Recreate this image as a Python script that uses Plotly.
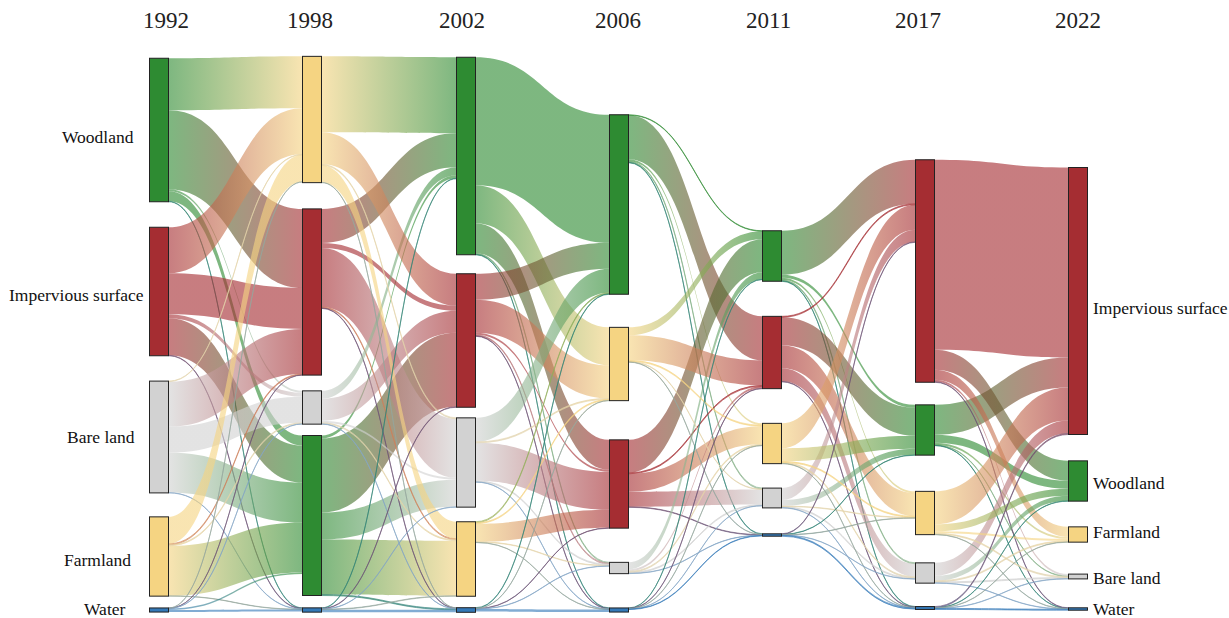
import json
import plotly.graph_objects as go

# ---------------- data ----------------
years = ["1992", "1998", "2002", "2006", "2011", "2017", "2022"]
categories = ["Woodland", "Impervious surface", "Bare land", "Farmland", "Water"]

# transition flows between consecutive years
# rows = source class, columns = target class, order: Woodland, Impervious, Bare, Farmland, Water
flow_1992_1998 = [
    [10, 79, 2, 52, 0.5],
    [37, 41, 4, 46, 0.5],
    [40, 45, 26, 0.5, 0.3],
    [50, 1, 1, 27, 0.3],
    [1.5, 0.2, 0.2, 0.2, 2],
]
flow_1998_2002 = [
    [3, 74, 27, 55, 1],
    [34, 5, 59, 1, 0.5],
    [8, 22, 2, 1, 0.3],
    [76, 32, 1, 17, 0.3],
    [0.5, 0.5, 0.3, 0.5, 2.5],
]
flow_2002_2006 = [
    [128, 30, 1, 38, 0.5],
    [26, 2, 1, 33, 0.5],
    [24, 38, 1, 1, 0.3],
    [1, 18, 0.5, 1, 0.3],
    [0.5, 0.3, 0.3, 0.3, 2.5],
]
flow_2006_2011 = [
    [0.5, 44, 1, 2, 0.5],
    [33, 1, 15, 18, 0.5],
    [7, 2, 1, 1, 0.3],
    [8, 25, 0.5, 1, 0.3],
    [0.3, 0.3, 0.2, 0.3, 0.5],
]
flow_2011_2017 = [
    [3, 44, 1, 2, 0.5],
    [28, 1, 13, 23, 0.5],
    [6, 12, 1, 0.5, 0.3],
    [13, 25, 1, 1, 0.3],
    [0.3, 0.5, 0.3, 0.3, 1],
]
flow_2017_2022 = [
    [8, 30, 0.5, 2, 0.3],
    [20, 190, 2, 10, 0.5],
    [5, 13, 1, 1, 0.3],
    [7, 33, 1, 2, 0.3],
    [0.3, 1, 0.3, 0.3, 1],
]
periods = [flow_1992_1998, flow_1998_2002, flow_2002_2006,
           flow_2006_2011, flow_2011_2017, flow_2017_2022]

# ---------------- styling / layout ----------------
W_PX, H_PX = 1229, 618
cat_rgb = [(46, 139, 50), (165, 45, 50), (210, 210, 210), (245, 212, 130), (52, 121, 184)]
link_alpha = 0.62

col_x_px = [159, 312, 466, 619, 772, 925, 1078]
# node centre y (px) per year, class order as categories
node_y_px = [
    [130, 291.5, 437, 556.5, 610],
    [515.5, 292, 407.5, 119.5, 610],
    [156, 340.5, 462.5, 559, 610],
    [204.5, 484, 568, 364, 610],
    [256, 352.5, 498, 443.5, 535],
    [430, 271, 573, 513, 608],
    [481, 301, 576.5, 534.5, 609],
]
year_x_px = [166, 310, 462, 618, 768, 918, 1078]
left_lab_right_px = [136, 146, 137, 133, 128]
left_lab_y_px = [137, 295, 437, 560, 609]
right_lab_left_px = 1091
right_lab_y_px = [483, 308, 578, 532, 609]

nc = len(categories)
ny = len(years)


def nid(yi, ci):
    return yi * nc + ci


def rgb(c, a=None):
    if a is None:
        return "rgb(%d,%d,%d)" % c
    return "rgba(%d,%d,%d,%.3f)" % (c[0], c[1], c[2], a)


src, tgt, val, lcol, pairs = [], [], [], [], []
for p, mat in enumerate(periods):
    for i in range(nc):
        for j in range(nc):
            v = mat[i][j]
            if v <= 0:
                continue
            src.append(nid(p, i))
            tgt.append(nid(p + 1, j))
            val.append(v)
            mix = tuple((cat_rgb[i][k] + cat_rgb[j][k]) / 2 for k in range(3))
            lcol.append(rgb(mix, link_alpha))
            pairs.append([rgb(cat_rgb[i]), rgb(cat_rgb[j])])

# node values (max of in/out) -> padding such that 1 unit ~ 1 px
inflow = [0.0] * (nc * ny)
outflow = [0.0] * (nc * ny)
for s, t, v in zip(src, tgt, val):
    outflow[s] += v
    inflow[t] += v
col_tot = [sum(max(inflow[nid(y, c)], outflow[nid(y, c)]) for c in range(nc)) for y in range(ny)]
pad = (H_PX - max(col_tot)) / (nc - 1)

node_x, node_y, node_col, node_cd = [], [], [], []
for yi in range(ny):
    for ci in range(nc):
        node_x.append(col_x_px[yi] / W_PX)
        node_y.append(node_y_px[yi][ci] / H_PX)
        node_col.append(rgb(cat_rgb[ci]))
        node_cd.append("%s %s" % (categories[ci], years[yi]))

fig = go.Figure(go.Sankey(
    arrangement="fixed",
    domain=dict(x=[0, 1], y=[0, 1]),
    node=dict(
        label=[""] * (nc * ny),
        x=node_x, y=node_y,
        pad=pad, thickness=19,
        color=node_col,
        line=dict(color="#222222", width=1),
        customdata=node_cd,
        hovertemplate="%{customdata}<extra></extra>",
    ),
    link=dict(source=src, target=tgt, value=val, color=lcol),
))

serif = "Liberation Serif, Times New Roman, serif"
ann = []
for yi, yr in enumerate(years):
    ann.append(dict(x=year_x_px[yi] / W_PX, y=1 - 21 / H_PX, xref="paper", yref="paper",
                    text=yr, showarrow=False, xanchor="center", yanchor="middle",
                    font=dict(family=serif, size=23, color="#222222")))
for ci, name in enumerate(categories):
    ann.append(dict(x=left_lab_right_px[ci] / W_PX, y=1 - left_lab_y_px[ci] / H_PX,
                    xref="paper", yref="paper", text=name, showarrow=False,
                    xanchor="right", yanchor="middle",
                    font=dict(family=serif, size=17.5, color="#111111")))
    ann.append(dict(x=right_lab_left_px / W_PX, y=1 - right_lab_y_px[ci] / H_PX,
                    xref="paper", yref="paper", text=name, showarrow=False,
                    xanchor="left", yanchor="middle",
                    font=dict(family=serif, size=17.5, color="#111111")))

fig.update_layout(
    width=W_PX, height=H_PX,
    margin=dict(l=0, r=0, t=0, b=0),
    paper_bgcolor="white", plot_bgcolor="white",
    annotations=ann,
    font=dict(family=serif),
)

js = """
(function(){
  document.body.style.margin = '0';
  var gd = document.getElementById('{plot_id}');
  var pairs = __PAIRS__;
  var ns = 'http://www.w3.org/2000/svg';
  var svg = gd.querySelector('svg.main-svg');
  var defs = svg.querySelector('defs');
  if(!defs){ defs = document.createElementNS(ns, 'defs'); svg.insertBefore(defs, svg.firstChild); }
  var els = gd.querySelectorAll('path.sankey-link');
  for(var k = 0; k < els.length; k++){
    var el = els[k];
    var d = el.__data__;
    var idx = (d && d.link && typeof d.link.pointNumber === 'number') ? d.link.pointNumber : k;
    var p = pairs[idx];
    if(!p) continue;
    var id = 'lkgrad' + idx;
    var g = document.createElementNS(ns, 'linearGradient');
    g.setAttribute('id', id);
    g.setAttribute('x1', '0'); g.setAttribute('y1', '0');
    g.setAttribute('x2', '1'); g.setAttribute('y2', '0');
    var s1 = document.createElementNS(ns, 'stop');
    s1.setAttribute('offset', '0'); s1.setAttribute('stop-color', p[0]);
    var s2 = document.createElementNS(ns, 'stop');
    s2.setAttribute('offset', '1'); s2.setAttribute('stop-color', p[1]);
    g.appendChild(s1); g.appendChild(s2);
    defs.appendChild(g);
    el.style.fill = 'url(#' + id + ')';
  }
})();
""".replace("__PAIRS__", json.dumps(pairs))

fig.write_html("out.html", post_script=js)
